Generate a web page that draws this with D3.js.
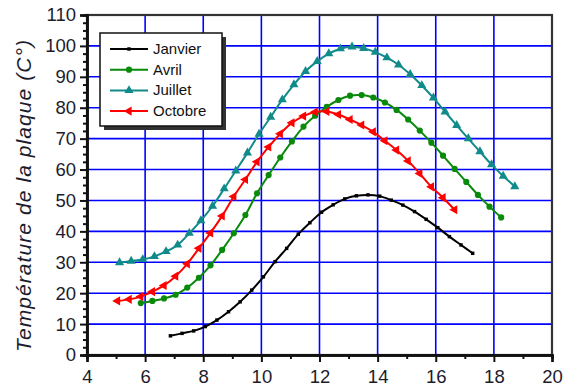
<!DOCTYPE html>
<html>
<head>
<meta charset="utf-8">
<script src="https://cdn.jsdelivr.net/npm/d3@7"></script>
<style>
  body { margin: 0; background: #fff; }
  text { font-family: "Liberation Sans", Arial, sans-serif; }
</style>
</head>
<body>
<svg id="chart" width="573" height="387"></svg>
<script>
// Heure solaire (h) et température de la plaque (°C) pour quatre mois
const janvierX = [6.87,7.27,7.67,8.07,8.47,8.87,9.27,9.67,10.07,10.47,10.87,11.27,11.67,12.07,12.47,12.87,13.27,13.67,14.07,14.47,14.87,15.27,15.67,16.07,16.47,16.87,17.27];
const janvierY = [6.2,7.0,7.8,9.2,11.3,14.0,17.2,21.0,25.3,30.2,34.5,39.1,42.8,46.2,48.6,50.5,51.5,51.8,51.4,50.1,48.5,46.4,43.9,41.2,38.3,35.6,32.9];

const avrilX = [5.85,6.25,6.65,7.05,7.45,7.85,8.25,8.65,9.05,9.45,9.85,10.25,10.65,11.05,11.45,11.85,12.25,12.65,13.05,13.45,13.85,14.25,14.65,15.05,15.45,15.85,16.25,16.65,17.05,17.45,17.85,18.25];
const avrilY = [16.8,17.5,18.3,19.5,21.8,25.0,29.0,34.0,39.4,45.3,52.3,58.2,63.9,69.1,73.9,77.4,80.3,82.5,83.9,84.1,83.3,81.7,79.3,76.2,72.6,68.7,64.5,60.2,56.0,51.8,48.0,44.5];

const juilletX = [5.12,5.52,5.92,6.32,6.72,7.12,7.52,7.92,8.32,8.72,9.12,9.52,9.92,10.32,10.72,11.12,11.52,11.92,12.32,12.72,13.12,13.52,13.92,14.32,14.72,15.12,15.52,15.92,16.32,16.72,17.12,17.52,17.92,18.32,18.72];
const juilletY = [29.9,30.4,30.9,31.9,33.5,35.6,39.4,43.5,48.2,53.8,59.6,65.4,71.5,77.0,82.6,87.5,91.8,95.0,97.5,99.1,99.7,99.2,98.0,96.2,93.9,90.8,87.2,83.2,78.7,74.3,70.0,65.8,61.6,57.9,54.5];

const octobreX = [5.05,5.45,5.85,6.25,6.65,7.05,7.45,7.85,8.25,8.65,9.05,9.45,9.85,10.25,10.65,11.05,11.45,11.85,12.25,12.65,13.05,13.45,13.85,14.25,14.65,15.05,15.45,15.85,16.25,16.65];
const octobreY = [17.5,18.0,18.9,20.5,22.5,25.5,29.5,34.5,39.5,45.0,51.3,56.8,62.5,67.3,71.6,75.1,77.3,78.6,78.8,77.8,76.2,74.4,72.2,69.3,66.3,62.8,58.7,54.4,50.9,47.0];

const seriesNames = ["Janvier", "Avril", "Juillet", "Octobre"];
const xTicks = [4,6,8,10,12,14,16,18,20];
const yTicks = [0,10,20,30,40,50,60,70,80,90,100,110];
const yTitle = "Température de la plaque (C°)";

const series = [
  { name: seriesNames[0], xs: janvierX, ys: janvierY, color: "#000000", marker: "square" },
  { name: seriesNames[1], xs: avrilX,   ys: avrilY,   color: "#0a8a0a", marker: "circle" },
  { name: seriesNames[2], xs: juilletX, ys: juilletY, color: "#118a8a", marker: "triUp" },
  { name: seriesNames[3], xs: octobreX, ys: octobreY, color: "#ff0000", marker: "triLeft" }
];

const svg = d3.select("#chart");
const L = 87, R = 552, T = 15, B = 355;
const x = d3.scaleLinear().domain([4, 20]).range([L, R]);
const y = d3.scaleLinear().domain([0, 110]).range([B, T]);

// grille bleue
const grid = svg.append("g");
grid.selectAll("line.v").data(xTicks.slice(1, -1)).join("line")
  .attr("x1", d => x(d)).attr("x2", d => x(d)).attr("y1", T).attr("y2", B)
  .attr("stroke", "#0000ff").attr("stroke-width", 1.6);
grid.selectAll("line.h").data(yTicks.slice(1, -1)).join("line")
  .attr("y1", d => y(d)).attr("y2", d => y(d)).attr("x1", L).attr("x2", R)
  .attr("stroke", "#0000ff").attr("stroke-width", 1.6);

// cadre
svg.append("rect").attr("x", L).attr("y", T).attr("width", R - L).attr("height", B - T)
  .attr("fill", "none").attr("stroke", "#333").attr("stroke-width", 2.2);

// axes
const xAxis = svg.append("g").attr("transform", `translate(0,${B})`)
  .call(d3.axisBottom(x).tickValues(xTicks).tickSize(7).tickPadding(8).tickFormat(d3.format("d")));
const xMinor = svg.append("g").attr("transform", `translate(0,${B})`)
  .call(d3.axisBottom(x).tickValues(d3.range(5, 20, 2)).tickSize(4).tickFormat(""));
const yAxis = svg.append("g").attr("transform", `translate(${L},0)`)
  .call(d3.axisLeft(y).tickValues(yTicks).tickSize(7).tickPadding(4).tickFormat(d3.format("d")));
const yMinor = svg.append("g").attr("transform", `translate(${L},0)`)
  .call(d3.axisLeft(y).tickValues(d3.range(2.5, 110, 2.5).filter(v => v % 10 !== 0)).tickSize(4).tickFormat(""));

[xAxis, xMinor, yAxis, yMinor].forEach(g => {
  g.select(".domain").attr("stroke", "#111").attr("stroke-width", 2.5);
  g.selectAll(".tick line").attr("stroke", "#111").attr("stroke-width", 2);
  g.selectAll(".tick text").attr("fill", "#1c1c2c").attr("font-size", 18.5)
    .attr("font-family", "Liberation Sans, Arial, sans-serif");
});

svg.append("text")
  .attr("transform", `translate(31,196) rotate(-90)`)
  .attr("text-anchor", "middle")
  .attr("font-size", 21).attr("font-style", "italic").attr("fill", "#1c1c2c")
  .attr("textLength", 312).attr("lengthAdjust", "spacing")
  .text(yTitle);

// marqueurs
function markerPath(type, s) {
  if (type === "square") return d3.symbol(d3.symbolSquare, s * 12)();
  if (type === "circle") return d3.symbol(d3.symbolCircle, s * 30)();
  return d3.symbol(d3.symbolTriangle, s * 36)();
}
function drawMarker(g, type, color, px, py, s) {
  return g.append("path").attr("d", markerPath(type, s))
    .attr("fill", color)
    .attr("transform", `translate(${px},${py})` + (type === "triLeft" ? " rotate(-90)" : ""));
}

const line = d3.line().x(d => x(d[0])).y(d => y(d[1])).curve(d3.curveCatmullRom);
const plot = svg.append("g");
series.forEach(s => {
  const pts = s.xs.map((v, i) => [v, s.ys[i]]);
  plot.append("path").attr("d", line(pts)).attr("fill", "none")
    .attr("stroke", s.color).attr("stroke-width", 2);
  pts.forEach(p => drawMarker(plot, s.marker, s.color, x(p[0]), y(p[1]), 1));
});

// légende
const lg = svg.append("g");
lg.append("rect").attr("x", 104).attr("y", 37).attr("width", 122).attr("height", 93).attr("fill", "#333");
lg.append("rect").attr("x", 100).attr("y", 33).attr("width", 122).attr("height", 93)
  .attr("fill", "#fff").attr("stroke", "#111").attr("stroke-width", 1.5);
series.forEach((s, i) => {
  const yy = 49 + i * 20.7;
  lg.append("line").attr("x1", 110).attr("x2", 148).attr("y1", yy).attr("y2", yy)
    .attr("stroke", s.color).attr("stroke-width", 2);
  drawMarker(lg, s.marker, s.color, 129, yy, 1);
  lg.append("text").attr("x", 153).attr("y", yy + 5).attr("font-size", 15).attr("fill", "#111").text(s.name);
});
</script>
</body>
</html>
